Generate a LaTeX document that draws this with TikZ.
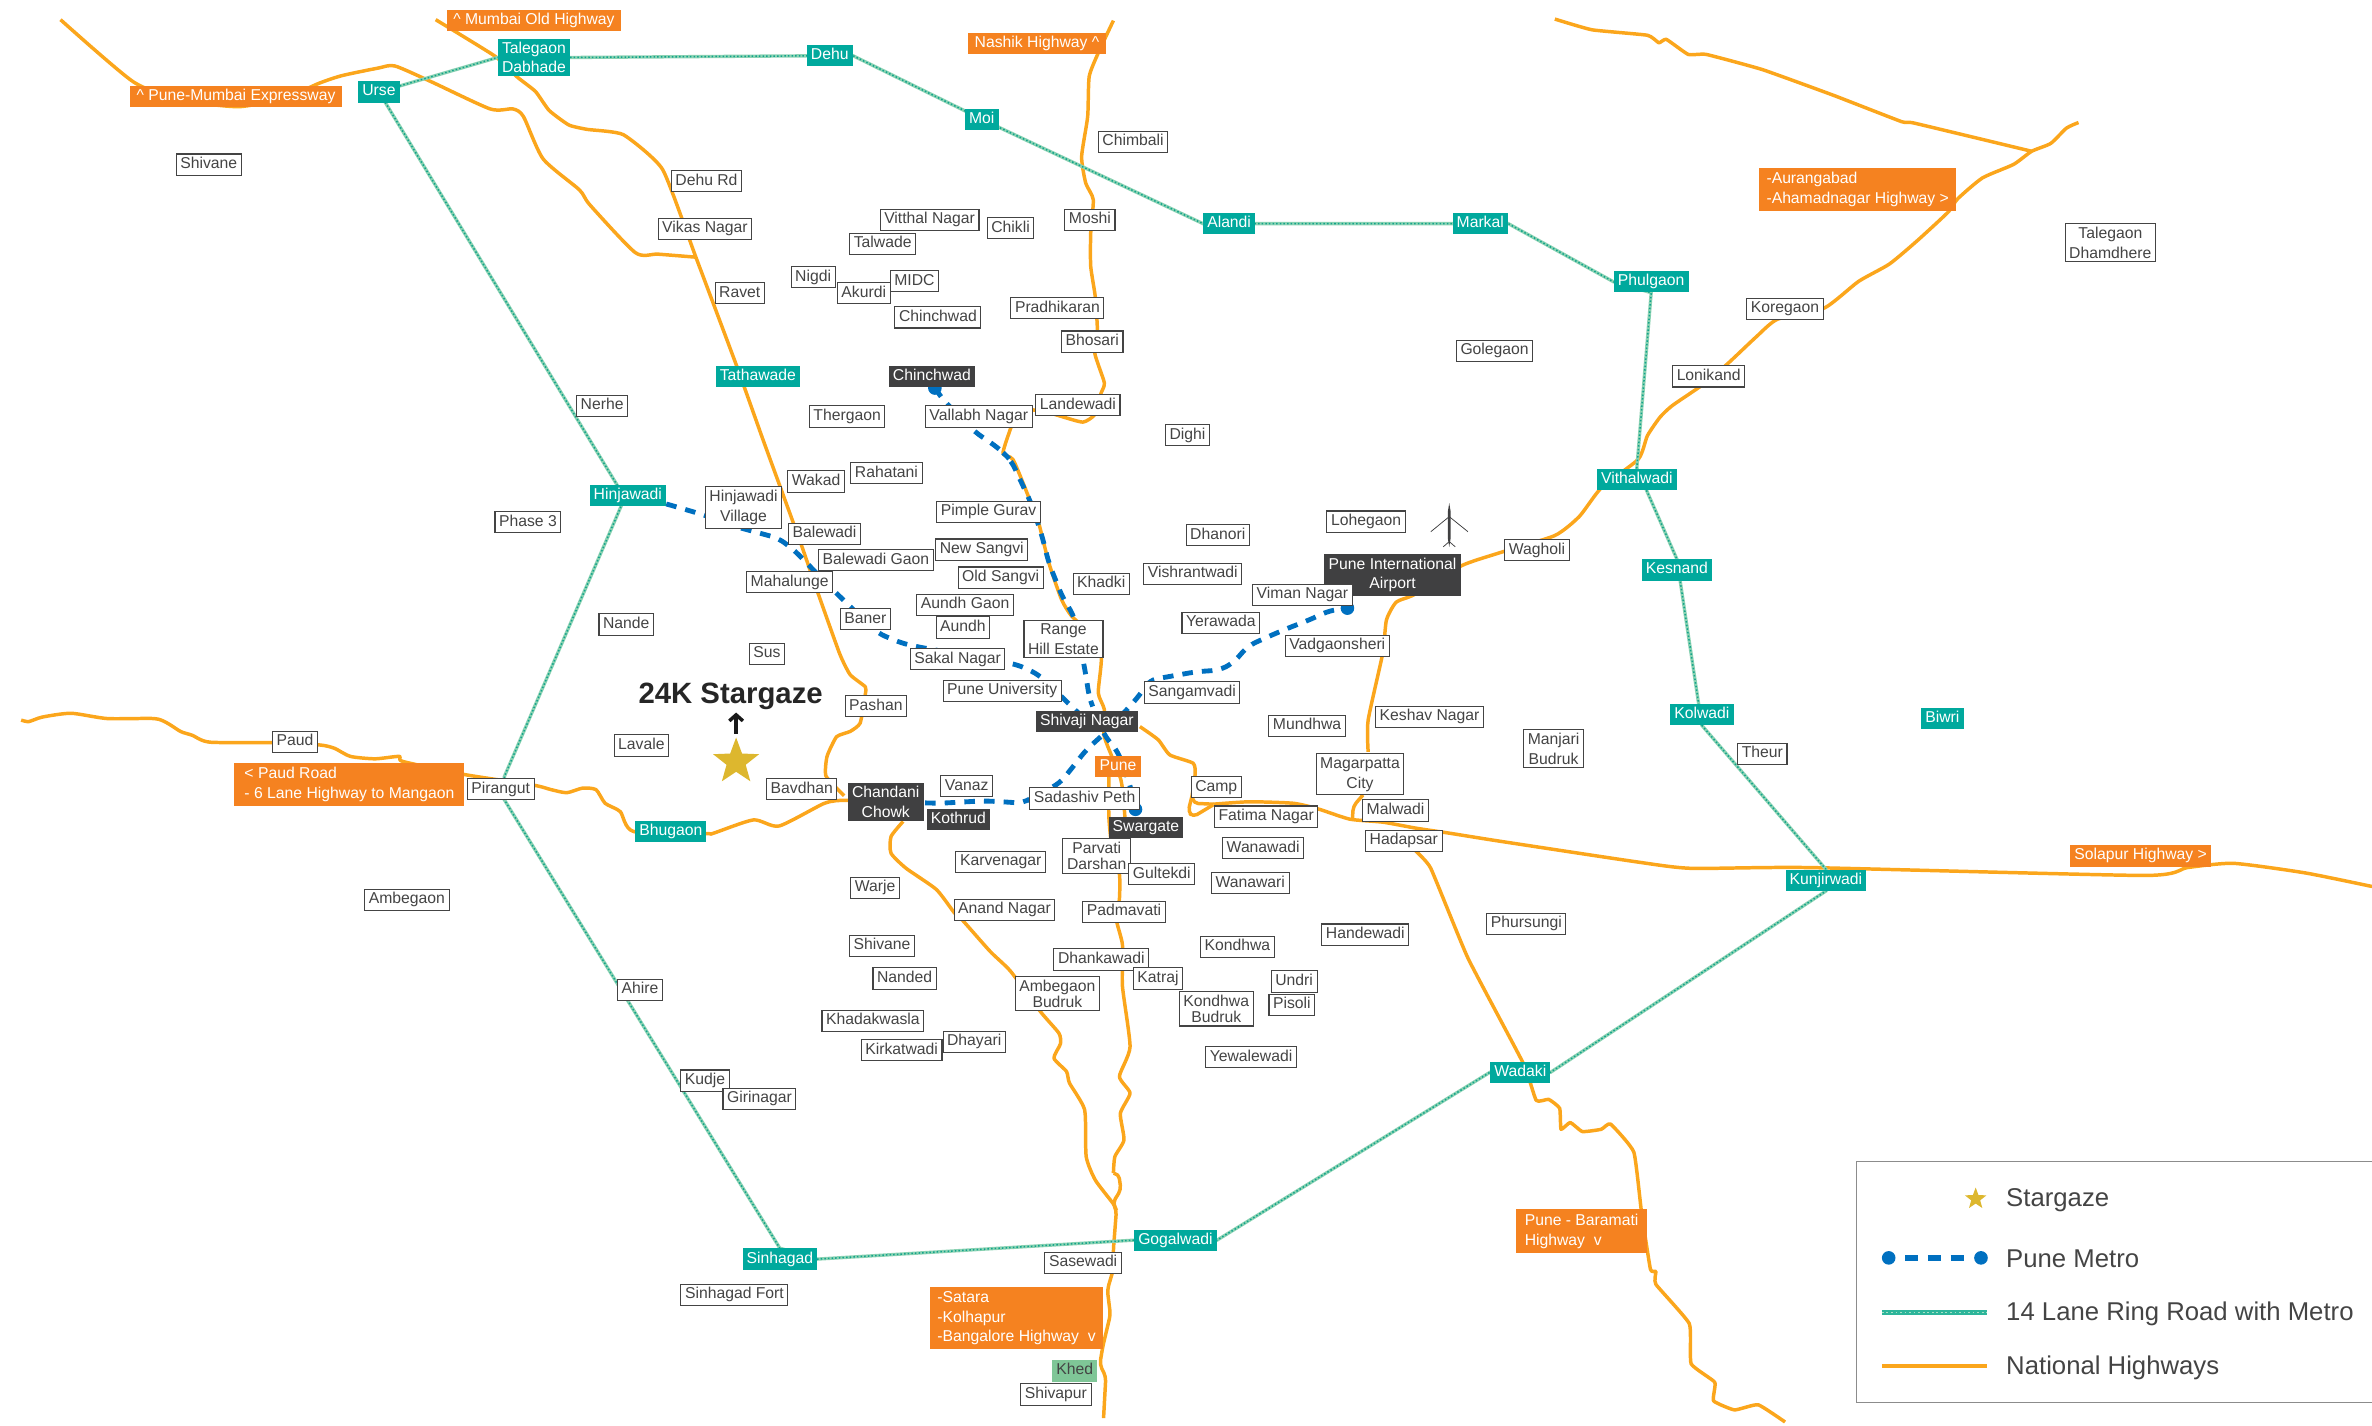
\documentclass[tikz,border=0pt]{standalone}
\usepackage{fontspec}
\setmainfont{Liberation Sans}
\usetikzlibrary{shapes.geometric,arrows.meta}
\pgfdeclarelayer{bg}
\pgfsetlayers{bg,main}
\definecolor{hwy}{HTML}{FBA61C}
\definecolor{tealbox}{HTML}{00A99D}
\definecolor{orangebox}{HTML}{F58220}
\definecolor{darkbox}{HTML}{404041}
\definecolor{greybd}{HTML}{444444}
\definecolor{metroblue}{HTML}{0070C0}
\definecolor{ringbase}{HTML}{8CD3B3}
\definecolor{ringdot}{HTML}{12A38C}
\definecolor{legring}{HTML}{2DB59A}
\definecolor{legdot}{HTML}{A8E0C5}
\definecolor{stargold}{HTML}{DDB72E}
\definecolor{khedgreen}{HTML}{7FC697}
\newcommand{\lblfont}{\fontsize{10.4}{13}\selectfont}
\newcommand{\tightfont}{\fontsize{10.4}{10.2}\selectfont}
\tikzset{
  boxbase/.style={inner xsep=2.7pt,inner ysep=2pt,text height=7.6pt,text depth=2.4pt,font=\lblfont,yshift=-.8pt},
  lbl/.style={boxbase,draw=greybd,line width=.7pt,fill=white,text=greybd},
  lblm/.style={draw=greybd,line width=.7pt,fill=white,text=greybd,align=center,inner xsep=2.7pt,inner ysep=2.4pt,font=\lblfont,yshift=-.4pt},
  lblt/.style={lblm,font=\tightfont},
  teal/.style={boxbase,fill=tealbox,text=white},
  tealm/.style={fill=tealbox,text=white,align=center,inner xsep=2.7pt,inner ysep=2pt,font=\lblfont},
  darkn/.style={boxbase,fill=darkbox,text=white},
  darkm/.style={fill=darkbox,text=white,align=center,inner xsep=3pt,inner ysep=2.4pt,font=\lblfont},
  orangen/.style={boxbase,fill=orangebox,text=white,inner xsep=3pt},
  orangew/.style={orangen,inner xsep=4.5pt},
  orangem/.style={fill=orangebox,text=white,align=left,inner xsep=4pt,inner ysep=1pt,font=\lblfont,yshift=-.4pt},
  highway/.style={draw=hwy,line width=2.3pt,line join=round},
  ringroad/.style={draw=ringbase,line width=2.2pt,postaction={draw=ringdot,line width=1pt,dash pattern=on 1pt off 1.4pt}},
  legendring/.style={draw=legring,line width=3.2pt,postaction={draw=legdot,line width=1.1pt,dash pattern=on 1.2pt off 1.8pt}},
  metro/.style={draw=metroblue,line width=3.2pt,dash pattern=on 7pt off 6pt,rounded corners=5pt},
  legmetro/.style={draw=metroblue,line width=3.6pt,dash pattern=on 8.6pt off 6.5pt},
  metrodot/.style={circle,fill=metroblue,inner sep=0pt,minimum size=9pt},
  goldstar/.style={star,star points=5,star point ratio=2.4,fill=stargold,inner sep=0pt},
  legtext/.style={anchor=west,text=greybd,font=\fontsize{17}{20}\selectfont,inner sep=0pt,yshift=-1.3pt},
}
\begin{document}
\begin{tikzpicture}[x=1pt,y=-1pt]
\useasboundingbox (0,0) rectangle (1568,942.6);
% metro end dots sit beneath all labels
\node[metrodot] (dotchin) at (618,256.5) {};
\node[metrodot] (dotswar) at (750.6,535) {};
\node[metrodot] (dotviman) at (890.7,402) {};
% dark labels
\node[darkn] (chinchwadd) at (616,248) {Chinchwad};
\node[darkm] (airport) at (920.5,380) {Pune International\\Airport};
\node[darkn] (shivaji) at (718.5,476) {Shivaji Nagar};
\node[darkm] (chandani) at (585.5,530) {Chandani\\Chowk};
\node[darkn] (kothrud) at (633.5,541) {Kothrud};
\node[darkn] (swargate) at (757.5,546) {Swargate};
% white place labels
\node[lbl] (shivanew) at (138,108) {Shivane};
\node[lbl] (dehurd) at (467,119) {Dehu Rd};
\node[lbl] (vikas) at (466,150.5) {Vikas Nagar};
\node[lbl] (ravet) at (489,193) {Ravet};
\node[lbl] (nerhe) at (398,267.5) {Nerhe};
\node[lbl] (phase3) at (349,344.5) {Phase 3};
\node[lbl] (vitthal) at (614.5,144.5) {Vitthal Nagar};
\node[lbl] (chikli) at (668,150) {Chikli};
\node[lbl] (talwade) at (583.5,160.5) {Talwade};
\node[lbl] (nigdi) at (537.5,182.5) {Nigdi};
\node[lbl] (akurdi) at (571,193) {Akurdi};
\node[lbl] (midc) at (604.5,185) {MIDC};
\node[lbl] (chinchwadw) at (620,209) {Chinchwad};
\node[lbl] (moshi) at (720.5,144.5) {Moshi};
\node[lbl] (chimbali) at (749,93) {Chimbali};
\node[lbl] (pradhikaran) at (699,203) {Pradhikaran};
\node[lbl] (bhosari) at (722,225) {Bhosari};
\node[lbl] (landewadi) at (712.5,267) {Landewadi};
\node[lbl] (vallabh) at (647,274.5) {Vallabh Nagar};
\node[lbl] (thergaon) at (560,274.5) {Thergaon};
\node[lbl] (dighi) at (785,287) {Dighi};
\node[lbl] (golegaon) at (988,231) {Golegaon};
\node[lbl] (koregaon) at (1180,203.5) {Koregaon};
\node[lbl] (lonikand) at (1129.5,248) {Lonikand};
\node[lblm] (talegaond) at (1395,160) {Talegaon\\Dhamdhere};
\node[lbl] (wakad) at (539.5,317.5) {Wakad};
\node[lbl] (rahatani) at (586,312) {Rahatani};
\node[lblm] (hinjvillage) at (491.5,335) {Hinjawadi\\Village};
\node[lbl] (pimple) at (653.5,337.5) {Pimple Gurav};
\node[lbl] (dhanori) at (805,353) {Dhanori};
\node[lbl] (lohegaon) at (903,344) {Lohegaon};
\node[lbl] (newsangvi) at (649,362.5) {New Sangvi};
\node[lbl] (balewadi) at (545,352) {Balewadi};
\node[lbl] (balegaon) at (579,369.5) {Balewadi Gaon};
\node[lbl] (oldsangvi) at (661.5,381) {Old Sangvi};
\node[lbl] (vishrant) at (788.5,378.5) {Vishrantwadi};
\node[lbl] (mahalunge) at (522,384) {Mahalunge};
\node[lbl] (khadki) at (728,385) {Khadki};
\node[lbl] (wagholi) at (1016,363) {Wagholi};
\node[lbl] (viman) at (861,392.5) {Viman Nagar};
\node[lbl] (aundhgaon) at (638,399) {Aundh Gaon};
\node[lbl] (baner) at (572,408.5) {Baner};
\node[lbl] (aundh) at (636.5,414) {Aundh};
\node[lbl] (nande) at (414,412) {Nande};
\node[lbl] (yerawada) at (807,411) {Yerawada};
\node[lblm] (rangehill) at (703,422) {Range\\Hill Estate};
\node[lbl] (vadgaon) at (884,426) {Vadgaonsheri};
\node[lbl] (sus) at (507,431.5) {Sus};
\node[lbl] (sakal) at (633,435) {Sakal Nagar};
\node[lbl] (puneuni) at (662.5,456) {Pune University};
\node[lbl] (sangam) at (788,457) {Sangamvadi};
\node[lbl] (pashan) at (579,466) {Pashan};
\node[lbl] (mundhwa) at (864,479) {Mundhwa};
\node[lbl] (keshav) at (945,473) {Keshav Nagar};
\node[lblm] (manjari) at (1027,494.5) {Manjari\\Budruk};
\node[lbl] (theur) at (1165,497.5) {Theur};
\node[lbl] (lavale) at (424,492) {Lavale};
\node[lbl] (paud) at (195,489.5) {Paud};
\node[lbl] (pirangut) at (331,521) {Pirangut};
\node[lblm] (magarpatta) at (899,511.5) {Magarpatta\\City};
\node[lbl] (vanaz) at (639,519) {Vanaz};
\node[lbl] (bavdhan) at (530,521) {Bavdhan};
\node[lbl] (camp) at (804,519.5) {Camp};
\node[lbl] (sadashiv) at (717,527) {Sadashiv Peth};
\node[lbl] (malwadi) at (922.5,535) {Malwadi};
\node[lbl] (fatima) at (837,539) {Fatima Nagar};
\node[lbl] (hadapsar) at (928,555) {Hadapsar};
\node[lbl] (wanawadi) at (835,560) {Wanawadi};
\node[lblt] (parvati) at (725,565.5) {Parvati\\Darshan};
\node[lbl] (karvenagar) at (661.5,569) {Karvenagar};
\node[lbl] (gultekdi) at (768,577) {Gultekdi};
\node[lbl] (wanawari) at (826.5,583) {Wanawari};
\node[lbl] (warje) at (578.5,586) {Warje};
\node[lbl] (ambegaon) at (269,594) {Ambegaon};
\node[lbl] (anand) at (664,600.5) {Anand Nagar};
\node[lbl] (padmavati) at (743,602) {Padmavati};
\node[lbl] (phursungi) at (1009,610) {Phursungi};
\node[lbl] (handewadi) at (902.5,617) {Handewadi};
\node[lbl] (shivanee) at (583,624.5) {Shivane};
\node[lbl] (kondhwa) at (818,625) {Kondhwa};
\node[lbl] (dhankawadi) at (728,633.5) {Dhankawadi};
\node[lbl] (nanded) at (598,646) {Nanded};
\node[lbl] (katraj) at (765.5,646) {Katraj};
\node[lbl] (undri) at (855.5,648) {Undri};
\node[lbl] (ahire) at (423,653.5) {Ahire};
\node[lblt] (ambegaonb) at (699,656.5) {Ambegaon\\Budruk};
\node[lblt] (kondhwab) at (804,666.5) {Kondhwa\\Budruk};
\node[lbl] (pisoli) at (854,663.5) {Pisoli};
\node[lbl] (khadak) at (577,674) {Khadakwasla};
\node[lbl] (dhayari) at (644,688) {Dhayari};
\node[lbl] (kirkat) at (596,693.5) {Kirkatwadi};
\node[lbl] (yewale) at (827,698) {Yewalewadi};
\node[lbl] (kudje) at (466,713.5) {Kudje};
\node[lbl] (girinagar) at (502,725.5) {Girinagar};
\node[lbl] (sasewadi) at (716,834) {Sasewadi};
\node[lbl] (sinhfort) at (485.5,855) {Sinhagad Fort};
\node[lbl] (shivapur) at (698,921) {Shivapur};
% teal stations
\node[teal] (urse) at (250.5,60) {Urse};
\node[tealm] (talegaon) at (353,38) {Talegaon\\Dabhade};
\node[teal] (dehu) at (548.5,36) {Dehu};
\node[teal] (moi) at (649,78) {Moi};
\node[teal] (alandi) at (812.5,147) {Alandi};
\node[teal] (markal) at (978.5,147) {Markal};
\node[teal] (phulgaon) at (1091.5,185.5) {Phulgaon};
\node[teal] (vithalwadi) at (1082,316) {Vithalwadi};
\node[teal] (kesnand) at (1108.5,376) {Kesnand};
\node[teal] (kolwadi) at (1125,471.5) {Kolwadi};
\node[teal] (biwri) at (1284,474) {Biwri};
\node[teal] (kunjir) at (1207,581) {Kunjirwadi};
\node[teal] (wadaki) at (1005,708) {Wadaki};
\node[teal] (gogalwadi) at (777,819) {Gogalwadi};
\node[teal] (sinhagad) at (515.5,831.5) {Sinhagad};
\node[teal] (hinjawadi) at (415,327) {Hinjawadi};
\node[teal] (tathawade) at (501,248) {Tathawade};
\node[teal] (bhugaon) at (443.5,549) {Bhugaon};
\node[boxbase,fill=khedgreen,text=greybd] (khed) at (710.5,905.5) {Khed};
\coordinate (hinjring) at (413,329);
\coordinate (pirnorth) at (333.4,513.3);
\coordinate (pirsouth) at (333.4,528.7);
% orange boxes
\node[orangew] (oldhwy) at (353,13) {\textasciicircum\ Mumbai Old Highway};
\node[orangew] (expwy) at (156,63) {\textasciicircum\ Pune-Mumbai Expressway};
\node[orangew] (nashik) at (685.5,28) {Nashik Highway \textasciicircum};
\node[orangem,minimum width=130pt,minimum height=28.5pt] (aurang) at (1228,125) {-Aurangabad\\-Ahamadnagar Highway >};
\node[orangem,minimum width=152pt,minimum height=28.5pt] (paudrd) at (231,518) {< Paud Road\\- 6 Lane Highway to Mangaon};
\node[orangen] (pune) at (739,506) {Pune};
\node[orangen] (solapur) at (1415,565) {Solapur Highway >};
\node[orangem,inner xsep=5.5pt,minimum width=87pt,minimum height=29pt] (baramati) at (1045.5,813.5) {Pune - Baramati\\Highway\ \ v};
\node[orangem,inner xsep=3.4pt,minimum width=114pt,minimum height=41pt] (satara) at (672,871) {-Satara\\-Kolhapur\\-Bangalore Highway\ \ v};
% title
\node[text=black!85,font=\fontsize{19.4}{22}\selectfont\bfseries,inner sep=0pt] (title) at (483,460) {24K Stargaze};
\node[goldstar,minimum size=32pt] (star) at (486.6,503.5) {};
\coordinate (arrowfoot) at (486.6,485);
\coordinate (arrowhead) at (486.6,471);
\draw[-{Straight Barb[length=4pt,width=9pt]},line width=2.3pt,black!90] (arrowfoot) -- (arrowhead);
% airplane
\fill[darkbox] (958,332.6) -- (958.9,338) -- (958.9,356) -- (958,361.5) -- (957.1,356) -- (957.1,338) -- cycle;
\draw[darkbox,line width=.5pt] (958,341.5) -- (945.8,351.5) (958,341.5) -- (970.4,351.5) (958,358) -- (954,361.5) (958,358) -- (962,361.5);
% legend
\draw[draw=gray!90,line width=.7pt] (1568,768) -- (1227,768) -- (1227,927) -- (1568,927);
\node[goldstar,minimum size=15pt] (legstar) at (1306,792.5) {};
\node[legtext] (legt1) at (1326,792) {Stargaze};
\node[metrodot] (legm1) at (1248.5,831.5) {};
\node[metrodot] (legm2) at (1309.5,831.5) {};
\coordinate (legd1) at (1259.3,831.5);
\coordinate (legd2) at (1298,831.5);
\node[legtext] (legt2) at (1326,831) {Pune Metro};
\coordinate (legr1) at (1244,867.5);
\coordinate (legr2) at (1313.5,867.5);
\node[legtext] (legt3) at (1326,867) {14 Lane Ring Road with Metro};
\coordinate (legh1) at (1244,903);
\coordinate (legh2) at (1313.5,903);
\node[legtext] (legt4) at (1326,903) {National Highways};
\begin{pgfonlayer}{bg}
% Expressway
\draw[highway] plot[smooth,tension=.4] coordinates {(40,13) (88,54) (120,66) (158,70.5) (190,64) (211,55) (226,50) (250,45) (261,43.6) (285,54) (324,72) (339,72) (346,77) (359,105) (383,125.5) (390,135.5) (420,167) (435,168) (460,170)};
% Mumbai old highway
\draw[highway] plot[smooth,tension=.3] coordinates {(288,13) (327,37) (342,51) (354,60.5) (363,73) (376,82.6) (388,85.5) (412,89) (438,112) (460,170) (487,242) (504.5,291) (518,328) (530,361) (540,390) (555,432) (562,446) (572,454) (572,459) (568.6,478) (562,483.5) (553,487) (546.7,500) (546,513) (558,526)};
% Paud road through Bhugaon
\draw[highway] plot[smooth,tension=.4] coordinates {(14,476) (19,477) (28,474) (47,471.5) (71,475) (102,475) (110.6,478) (119.5,483.6) (127,486) (138.7,490.6) (180,490.9) (211,492.4) (221,494.6) (231.6,500) (248,501.6) (264,500) (266.5,503.4) (307,512) (352.6,519) (364.4,522) (374.7,524) (385,521) (394,522) (400,531) (410,536.5) (419,549.7) (467,551) (471,551) (498,542) (515,546) (545,531) (558.5,529) (575,530)};
% Chandani to south, Ambegaon, Sasewadi
\draw[highway] plot[smooth,tension=.35] coordinates {(597,543) (589,553) (589,564) (599,574) (619,588) (631,603.6) (636,608) (654.6,629) (668,642) (688,669) (700,683) (701,690) (696.7,699.5) (705,708.3) (707,716) (717,733.7) (718,764.5) (724,780) (735.6,795.3) (738,800)};
% Nashik highway to Vallabh, metro corridor, Range Hill, Shivaji, Pune
\draw[highway] plot[smooth,tension=.35] coordinates {(736,13.6) (726,35) (720,50.6) (719,77) (715,103.5) (717.7,121) (722.7,132) (721,154) (721,176) (724,196) (725.4,218) (723.7,233.5) (730,253) (727.8,260) (723.7,274) (716,279) (704,276) (694,273) (683,271) (672,271) (668.8,281) (663,299.6) (669.8,304) (681.6,332.6) (686.7,346) (693.4,372.3) (701.8,396.5) (708.6,407.5) (722,420) (728,435) (726,458) (730,469) (730,487) (741,515.6) (743.6,540)};
% Pune south line
\draw[highway] plot[smooth,tension=.35] coordinates {(733,513.4) (733,540) (735,560) (740,578) (740,594) (738,608) (742,624.6) (742,652) (747,692) (740,711.6) (747,722.6) (740.6,736) (743,753.5) (737,764.5) (736,775.5) };
\draw[highway,rounded corners=3pt] (736,775.5) -- (739.5,776) -- (741,786.5) -- (735.6,795) -- (738,800) -- (736,826) -- (736,839) -- (732,852.6) -- (734,869) -- (729,890) -- (727,902) -- (731,910) -- (729.5,937.4);
% Airport to Aurangabad
\draw[highway] plot[smooth,tension=.35] coordinates {(904.4,497) (904.4,476) (914,432) (916.5,409.8) (923,398) (935,393) (966,374) (991,365.5) (1027.8,354) (1044,341.4) (1058.5,322.5) (1083,303.5) (1089,288) (1097.4,275.7) (1105.6,268) (1126,254) (1142.5,240) (1161,222.6) (1175,211) (1206,203.6) (1228.6,186) (1249,174.5) (1267.5,159) (1288,140) (1294,131.5) (1310.5,117.6) (1331,108.7) (1343,100) (1355.6,94.8) (1366,84.7) (1374,81)};
\draw[highway] plot[smooth,tension=.25] coordinates {(1027.8,12.6) (1052.4,19.7) (1089,23.3) (1096.6,28.3) (1101.5,26) (1116,36) (1128,36) (1165,46) (1212,63) (1257,80.4) (1265.5,81.4) (1343,100)};
% Shivaji east to Solapur
\draw[highway] plot[smooth,tension=.35] coordinates {(753.5,480.3) (765.6,489) (773.3,499) (788.7,504.5) (790,512) (788,526) };
\draw[highway,rounded corners=3pt] (788,526) -- (785.4,536.5) -- (788.7,540) -- (802,532);
\draw[highway,rounded corners=3pt] (788,526) -- (789,531) -- (802,531.6);
\draw[highway] plot[smooth,tension=.35] coordinates {(802,531.6) (826,530) (855,531) (871.3,534.7) (892.3,541.5) (914.3,543.5) (936.3,547.5) (958.4,550.8) (991,556) (1081,569.6) (1118,574) (1196,573.5) (1417,578.7) (1446,573.5) (1476.5,570.7) (1523.7,577) (1568,586)};
\draw[highway,rounded corners=3pt] (901,525.5) -- (894.5,533) -- (894,542);
% Baramati
\draw[highway] plot[smooth,tension=.25] coordinates {(932,552) (935.5,562) (945.8,574) (970.4,633.4) (1007,703) (1015.5,727.4) (1023.7,726.7) (1031,732.6) (1031.9,746.5) (1038,742) (1046,748) (1058.5,746.5) (1064.6,743) (1080,761.5) (1085,800.5) (1091,839) (1094.6,840.5) (1094.6,849) (1116.7,875) (1117.9,901.5) (1133.5,913.7) (1132.7,926) (1146.6,932) (1162.2,928.6) (1180,940)};
% ring road
\draw[ringroad] (urse.center) -- (talegaon.west) -- (talegaon.east) -- (dehu.center) -- (dehu.east) -- (moi.center) -- (alandi.west) -- (markal.east) -- (phulgaon.west) -- (phulgaon.south) -- (vithalwadi.north) -- (kesnand.north) -- (kolwadi.south) -- (kunjir.north) -- (kunjir.south) -- (wadaki.east) -- (wadaki.west) -- (gogalwadi.east) -- (gogalwadi.west) -- (sinhagad.east) -- (sinhagad.north) -- (pirsouth) -- (pirnorth) -- (hinjring) -- cycle;
% metro
\draw[metro] (dotchin.center) -- (624,265) -- (645,286) -- (657,294) -- (663.7,299.6) -- (668.7,305) -- (681.6,332.6) -- (688.3,352.5) -- (693.4,372.3) -- (702,394) -- (710,407.5) -- (717,441.7) -- (720,460.5) -- (722.6,468) -- (730,486) -- (739,497) -- (747,519) -- (dotswar.center);
\draw[metro] (hinjawadi.center) -- (438.7,332.6) -- (464,340) -- (487.7,348.5) -- (514.6,355.8) -- (524.8,363.5) -- (536.6,375.6) -- (548.4,387.7) -- (562,401) -- (580.4,418.6) -- (595.6,425) -- (605.7,427.4) -- (673,439.5) -- (686.6,446) -- (705,463.7) -- (shivaji.center);
\draw[metro] (chandani.center) -- (621,531) -- (650,529.4) -- (663,530) -- (676.3,531) -- (683,526.6) -- (700.5,517.8) -- (709.4,506.7) -- (718,495.7) -- (731.4,483.6) -- (746.8,467) -- (753.4,459.4) -- (760,449.5) -- (791,444) -- (806,443) -- (815,438.4) -- (825,427) -- (838.4,420.8) -- (852,415) -- (865,410) -- (879,403.6) -- (dotviman.center);
% legend lines
\draw[legmetro] (legd1) -- (legd2);
\draw[legendring] (legr1) -- (legr2);
\draw[highway,line width=2.4pt] (legh1) -- (legh2);
\end{pgfonlayer}
\end{tikzpicture}
\end{document}
